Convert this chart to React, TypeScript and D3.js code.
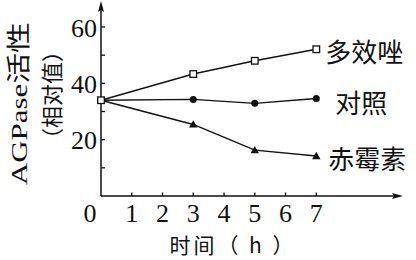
import React from "react";
import * as d3 from "d3";

const times = [0, 3, 5, 7];
const seriesNames = ["对照", "赤霉素", "多效唑"];
const controlValues = [34, 34.3, 32.9, 34.6];
const gaValues = [34, 25.4, 16.3, 14.2];
const pacValues = [34, 43.3, 48, 52.1];
const xTicks = [1, 2, 3, 4, 5, 6, 7];
const yTicks = [10, 20, 30, 40, 50, 60];
const yTickLabels = [20, 40, 60];

const W = 416;
const H = 260;
const ink = "#111";
const serif = "'Liberation Serif', 'Times New Roman', serif";
const cjk = "'Noto Sans CJK SC', 'Liberation Serif', sans-serif";
const mixed = "'Liberation Serif', 'Noto Sans CJK SC', serif";

export default function App() {
  const x = d3.scaleLinear().domain([0, 7]).range([101, 316.3]);
  const y = d3.scaleLinear().domain([0, 60]).range([196, 27]);
  const line = d3
    .line<[number, number]>()
    .x((d) => x(d[0]))
    .y((d) => y(d[1]));

  const series = [
    { name: seriesNames[0], values: controlValues, marker: "circle", dx: 19, dy: 3 },
    { name: seriesNames[1], values: gaValues, marker: "triangle", dx: 12, dy: 1 },
    { name: seriesNames[2], values: pacValues, marker: "square", dx: 9, dy: 1 },
  ];

  const x0 = x(0);
  const y0 = y(0);

  const marker = (kind: string, cx: number, cy: number, key: string) => {
    if (kind === "circle")
      return <circle key={key} cx={cx} cy={cy} r={3.5} fill={ink} />;
    if (kind === "triangle") {
      const s = 4.2;
      return (
        <path
          key={key}
          d={`M${cx},${cy - s}L${cx + s},${cy + s * 0.75}L${cx - s},${cy + s * 0.75}Z`}
          fill={ink}
        />
      );
    }
    return (
      <rect key={key} x={cx - 3.3} y={cy - 3.3} width={6.6} height={6.6} fill="#fff" stroke={ink} strokeWidth={1.3} />
    );
  };

  return (
    <svg
      width={W}
      height={H}
      style={{ position: "absolute", left: 0, top: 0, background: "#fff" }}
    >
      {/* axes */}
      <line x1={x0} y1={y0} x2={396} y2={y0} stroke={ink} strokeWidth={1.5} />
      <path d={`M403,${y0}L392,${y0 - 3}L394,${y0}L392,${y0 + 3}Z`} fill={ink} />
      <line x1={x0} y1={y0} x2={x0} y2={9} stroke={ink} strokeWidth={1.5} />
      <path d={`M${x0},1L${x0 - 3},12L${x0},10L${x0 + 3},12Z`} fill={ink} />

      {xTicks.map((t) => (
        <g key={"xt" + t}>
          <line x1={x(t)} y1={y0} x2={x(t)} y2={y0 - 3.5} stroke={ink} strokeWidth={1.3} />
          <text
            x={x(t)}
            y={y0 + 17}
            fontFamily={serif}
            fontSize={26}
            textAnchor="middle"
            dominantBaseline="central"
            fill={ink}
          >
            {t}
          </text>
        </g>
      ))}
      <text x={90} y={y0 + 17} fontFamily={serif} fontSize={26} textAnchor="middle" dominantBaseline="central" fill={ink}>
        0
      </text>

      {yTicks.map((t) => (
        <line key={"yt" + t} x1={x0} y1={y(t)} x2={x0 + 4} y2={y(t)} stroke={ink} strokeWidth={1.3} />
      ))}
      {yTickLabels.map((t) => (
        <text
          key={"yl" + t}
          x={97}
          y={y(t) + 1}
          fontFamily={serif}
          fontSize={26}
          textAnchor="end"
          dominantBaseline="central"
          fill={ink}
        >
          {t}
        </text>
      ))}

      {/* axis titles */}
      <text
        transform="translate(19,103.5) rotate(-90)"
        fontFamily={mixed}
        fontSize={24}
        textAnchor="middle"
        dominantBaseline="central"
        textLength={163}
        lengthAdjust="spacingAndGlyphs"
        fill={ink}
      >
        AGPase活性
      </text>
      <text
        transform="translate(50,95) rotate(-90)"
        fontFamily={cjk}
        fontSize={22}
        textAnchor="middle"
        dominantBaseline="central"
        textLength={110}
        lengthAdjust="spacingAndGlyphs"
        fill={ink}
      >
        （相对值）
      </text>
      <text
        x={231.5}
        y={244}
        fontFamily={cjk}
        fontSize={21}
        textAnchor="middle"
        dominantBaseline="central"
        textLength={124}
        lengthAdjust="spacing"
        fill={ink}
      >
        时间（ h ）
      </text>

      {/* series */}
      {series.map((s) => {
        const pts = times.map((t, i) => [t, s.values[i]] as [number, number]);
        const last = pts[pts.length - 1];
        return (
          <g key={s.name}>
            <path d={line(pts) || ""} fill="none" stroke={ink} strokeWidth={1.4} />
            {pts.map((p, i) => marker(s.marker, x(p[0]), y(p[1]), s.name + i))}
            <text
              x={x(last[0]) + s.dx}
              y={y(last[1]) + s.dy}
              fontFamily={cjk}
              fontSize={26}
              dominantBaseline="central"
              fill={ink}
            >
              {s.name}
            </text>
          </g>
        );
      })}
    </svg>
  );
}
